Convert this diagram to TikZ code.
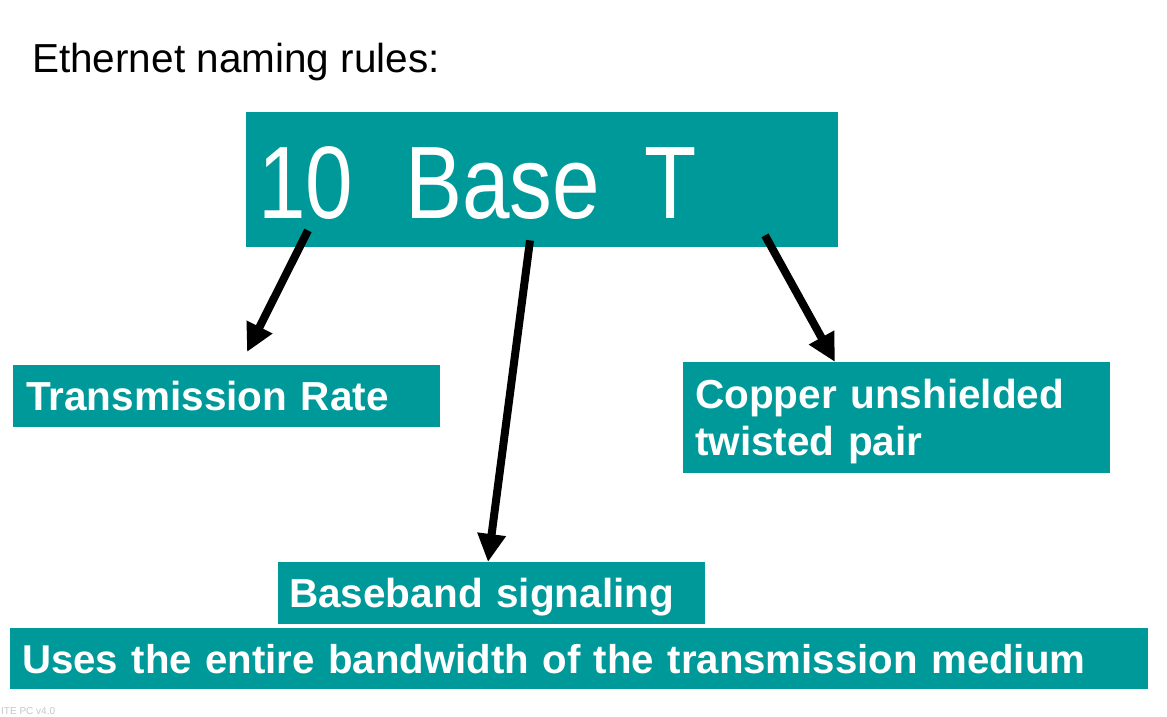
\documentclass[tikz,border=0pt]{standalone}
\usepackage{fontspec}
\setmainfont{Liberation Sans}
\newfontfamily\narrowfont[FakeStretch=0.83]{Liberation Sans}
\usetikzlibrary{arrows.meta}
\definecolor{boxTeal}{RGB}{0,153,153}

\begin{document}
\begin{tikzpicture}[x=1pt,y=-1pt,%%
  boxStyle/.style={fill=boxTeal,text=white,anchor=north west,align=left,inner ysep=0pt,%%
    font=\bfseries\fontsize{40.5}{47}\selectfont,text height=29pt,text depth=0pt},%%
  arrowStyle/.style={-{Triangle[length=28pt,width=27pt]},line width=8pt},%%
  titleStyle/.style={anchor=base west,inner sep=0pt}%%
]
%%
%%
\pgfmathsetmacro{\pagewidth}{1167}
\pgfmathsetmacro{\pageheight}{716}
\pgfmathsetmacro{\labelwidth}{427}
\pgfmathsetmacro{\labelheight}{62}
%%
\useasboundingbox[fill=white] (0,0) rectangle (\pagewidth,\pageheight);
%% Title of the slide.
\node[titleStyle,font=\fontsize{40.5}{46}\selectfont] (title) at (32,72) {Ethernet naming rules:};
%% The name to be explained.
\node[boxStyle,font=\narrowfont\fontsize{103}{120}\selectfont,text height=77pt,inner xsep=12pt,%%
  text width=568pt,minimum height=135pt] (code) at (246,112) {10\hspace{52pt}Base\hspace{44pt}T};
%% The three parts of the name.
\node[boxStyle,inner xsep=13pt,text width=\labelwidth pt-26pt,minimum height=\labelheight pt] (rate) at (13,365) {Transmission Rate};
\node[boxStyle,inner xsep=12pt,text width=\labelwidth pt-24pt,text depth=47pt,minimum height=111pt] (copper) at (683,362) {Copper unshielded\\twisted pair};
\node[boxStyle,inner xsep=11pt,text width=\labelwidth pt-22pt,minimum height=\labelheight pt] (baseband) at (278,562) {Baseband signaling};
%% Explanation of baseband.
\node[boxStyle,font=\bfseries\fontsize{40.2}{47}\selectfont,inner xsep=12pt,text width=1114pt,minimum height=61pt] (bandwidth) at (10,628) {Uses the entire bandwidth of the transmission medium};
%% Arrows from the name to its parts.
\draw[arrowStyle] ([xshift=62pt,yshift=17pt]code.south west) -- ([xshift=234pt,yshift=13pt]rate.north west);
\draw[arrowStyle] ([xshift=284pt,yshift=7pt]code.south west) -- ([xshift=210pt]baseband.north west);
\draw[arrowStyle] ([xshift=519pt,yshift=12pt]code.south west) -- ([xshift=152pt]copper.north west);
%% Footer.
\node[titleStyle,text=black!22,font=\fontsize{10}{12}\selectfont] (footer) at (1,714) {ITE PC v4.0};
\end{tikzpicture}
\end{document}
